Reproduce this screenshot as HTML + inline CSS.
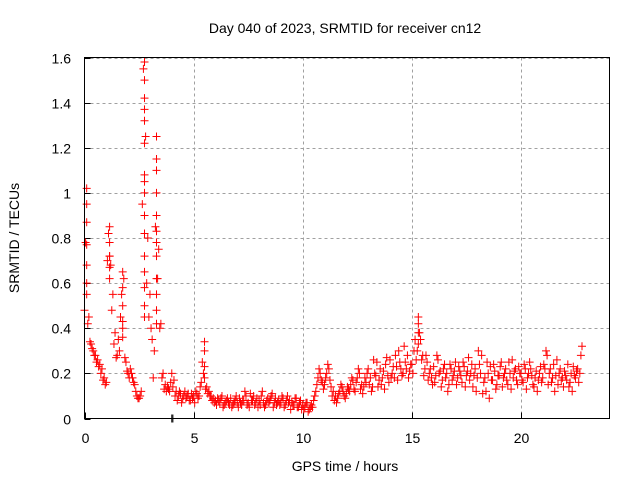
<!DOCTYPE html>
<html><head><meta charset="utf-8"><style>
body{margin:0;background:#fff}
svg text{font-family:"Liberation Sans",sans-serif;font-size:14px;fill:#000}
</style></head><body>
<svg id="chart" width="640" height="480" xmlns="http://www.w3.org/2000/svg">
<g id="grid"></g>
<g id="axes"></g>
<g id="marks"></g>
<rect x="84.5" y="57.5" width="525" height="361" fill="none" stroke="#000" stroke-width="1"/>
<text x="345" y="33" text-anchor="middle">Day 040 of 2023, SRMTID for receiver cn12</text>
<text x="345" y="471" text-anchor="middle">GPS time / hours</text>
<text transform="translate(19,238) rotate(-90)" text-anchor="middle">SRMTID / TECUs</text>
</svg>
<script>
const xTicks=[0,5,10,15,20];
const yTicks=[0,0.2,0.4,0.6,0.8,1,1.2,1.4,1.6];
const yTickLabels=["0","0.2","0.4","0.6","0.8","1","1.2","1.4","1.6"];
const step=0.1;
const values=[0.48,1.02,0.45,0.33,0.30,0.28,0.26,0.24,0.22,0.18,
0.16,0.82,0.68,0.55,0.38,0.28,0.30,0.55,0.62,0.25,
0.20,0.22,0.18,0.15,0.10,0.09,0.12,1.55,1.25,0.80,
0.55,0.35,0.30,1.15,0.75,0.42,0.20,0.15,0.14,0.12,
0.20,0.17,0.12,0.10,0.11,0.09,0.12,0.10,0.08,0.11,
0.10,0.12,0.09,0.14,0.25,0.18,0.14,0.12,0.10,0.09,
0.08,0.09,0.07,0.10,0.06,0.08,0.07,0.09,0.06,0.08,
0.07,0.09,0.06,0.08,0.10,0.07,0.11,0.08,0.06,0.09,
0.08,0.10,0.07,0.06,0.09,0.08,0.11,0.07,0.06,0.08,
0.07,0.09,0.06,0.10,0.08,0.07,0.06,0.09,0.05,0.08,
0.06,0.05,0.07,0.04,0.06,0.08,0.12,0.18,0.20,0.16,
0.15,0.20,0.22,0.14,0.12,0.10,0.09,0.12,0.14,0.10,
0.11,0.13,0.15,0.17,0.12,0.18,0.20,0.15,0.14,0.16,
0.22,0.18,0.14,0.20,0.25,0.17,0.15,0.21,0.24,0.19,
0.26,0.20,0.18,0.23,0.30,0.22,0.20,0.25,0.28,0.21,
0.24,0.30,0.26,0.42,0.35,0.28,0.22,0.25,0.20,0.18,
0.23,0.19,0.26,0.21,0.17,0.24,0.20,0.15,0.22,0.19,
0.25,0.18,0.21,0.16,0.23,0.19,0.27,0.20,0.14,0.22,
0.18,0.24,0.28,0.16,0.12,0.20,0.23,0.17,0.21,0.15,
0.19,0.25,0.18,0.22,0.15,0.20,0.26,0.21,0.17,0.23,
0.20,0.16,0.22,0.18,0.25,0.19,0.14,0.21,0.17,0.23,
0.18,0.22,0.28,0.20,0.16,0.24,0.19,0.15,0.22,0.18,
0.21,0.17,0.14,0.20,0.23,0.18,0.22,0.20,0.32];
const values2=[0.78,0.42,0.34,0.31,0.28,0.25,0.23,0.20,0.17,0.15,
0.70,0.72,0.48,0.33,0.27,0.35,0.45,0.40,0.27,0.21,
0.18,0.20,0.16,0.12,0.09,0.10,0.95,1.05,0.60,0.45,
0.40,0.18,0.85,0.62,0.40,0.18,0.13,0.12,0.13,0.16,
0.14,0.10,0.08,0.12,0.07,0.10,0.09,0.11,0.08,0.09,
0.07,0.11,0.10,0.16,0.20,0.13,0.11,0.10,0.08,0.07,
0.06,0.08,0.09,0.05,0.07,0.09,0.06,0.05,0.07,0.10,
0.05,0.07,0.08,0.12,0.06,0.05,0.08,0.10,0.07,0.05,
0.06,0.12,0.05,0.08,0.07,0.10,0.05,0.09,0.07,0.06,
0.10,0.05,0.08,0.07,0.04,0.06,0.09,0.05,0.07,0.04,
0.04,0.07,0.03,0.05,0.05,0.10,0.15,0.22,0.17,0.13,
0.18,0.24,0.17,0.10,0.08,0.07,0.11,0.15,0.12,0.09,
0.14,0.12,0.18,0.13,0.16,0.22,0.13,0.11,0.18,0.20,
0.15,0.12,0.26,0.19,0.14,0.22,0.18,0.13,0.27,0.16,
0.18,0.23,0.28,0.17,0.25,0.19,0.32,0.22,0.18,0.24,
0.20,0.35,0.30,0.38,0.26,0.19,0.28,0.17,0.22,0.15,
0.16,0.28,0.20,0.14,0.22,0.18,0.12,0.24,0.17,0.21,
0.15,0.23,0.19,0.25,0.14,0.21,0.17,0.24,0.19,0.12,
0.30,0.20,0.11,0.18,0.25,0.09,0.17,0.24,0.13,0.19,
0.23,0.14,0.20,0.17,0.25,0.13,0.18,0.22,0.15,0.20,
0.17,0.24,0.13,0.20,0.22,0.15,0.18,0.12,0.20,0.16,
0.24,0.30,0.15,0.22,0.18,0.12,0.26,0.20,0.17,0.14,
0.19,0.24,0.16,0.12,0.19,0.21,0.16,0.28];
const extraT=[0.1,0.1,0.1,0.1,0.1,0.1,1.15,1.15,1.15,1.15,1.15,1.75,1.75,1.75,1.75,1.75,
2.75,2.75,2.75,2.75,2.75,2.75,2.75,2.75,2.75,2.75,2.75,2.75,2.75,2.75,2.75,
3.3,3.3,3.3,3.3,3.3,3.3,3.3,3.3,3.3,3.3,3.3,3.3,5.5,5.5,5.5,15.3,15.3,15.3];
const extraV=[0.95,0.87,0.77,0.68,0.6,0.55,0.85,0.78,0.72,0.67,0.62,0.65,0.58,0.5,0.43,0.36,
1.58,1.5,1.42,1.37,1.32,1.22,1.08,1.0,0.9,0.82,0.72,0.65,0.58,0.5,0.45,
1.25,1.15,1.1,1.0,0.9,0.83,0.78,0.72,0.62,0.55,0.48,0.42,0.34,0.3,0.23,0.45,0.38,0.33];
const blackT=[4.0,4.05];
const blackV=[0,0];
const NS="http://www.w3.org/2000/svg";
const X=t=>84.5+t*21.82;
const Y=v=>418.5-v*225.6;
const grid=document.getElementById('grid'),axes=document.getElementById('axes'),marks=document.getElementById('marks');
function mk(tag,attrs,parent){const e=document.createElementNS(NS,tag);for(const k in attrs)e.setAttribute(k,attrs[k]);parent.appendChild(e);return e;}
xTicks.forEach(t=>{
 const x=Math.round(X(t))+0.5;
 if(t>0){const g=mk('line',{x1:x,x2:x,y1:57.5,y2:418.5,stroke:'#a0a0a0','stroke-dasharray':'3,3'},grid);
 
 }
 const l=mk('line',{x1:x,x2:x,y1:418.5,y2:412.5,stroke:'#000'},axes);
 
 
 const tx=mk('text',{x:x,y:443,'text-anchor':'middle'},axes);tx.textContent=t;
 
 
});
yTicks.forEach((v,i)=>{
 const y=Math.round(Y(v))+0.5;
 if(v>0){const g=mk('line',{x1:84.5,x2:609.5,y1:y,y2:y,stroke:'#a0a0a0','stroke-dasharray':'3,3'},grid);
 
 }
 const l=mk('line',{x1:84.5,x2:90.5,y1:y,y2:y,stroke:'#000'},axes);
 
 
 const tx=mk('text',{x:71,y:y+5,'text-anchor':'end'},axes);tx.textContent=yTickLabels[i];
 
 
});
function plus(t,v,c){
 const x=X(t),y=Y(v);
 const p=mk('path',{d:`M${x-4} ${y}H${x+4}M${x} ${y-4}V${y+4}`,stroke:c,'stroke-width':1,fill:'none'},marks);
 
 
}
blackT.forEach((t,i)=>plus(t,blackV[i],'#000'));
values.forEach((v,i)=>plus(i*step,v,'#f00'));
values2.forEach((v,i)=>plus(0.05+i*step,v,'#f00'));
extraT.forEach((t,i)=>plus(t,extraV[i],'#f00'));
</script>
</body></html>
